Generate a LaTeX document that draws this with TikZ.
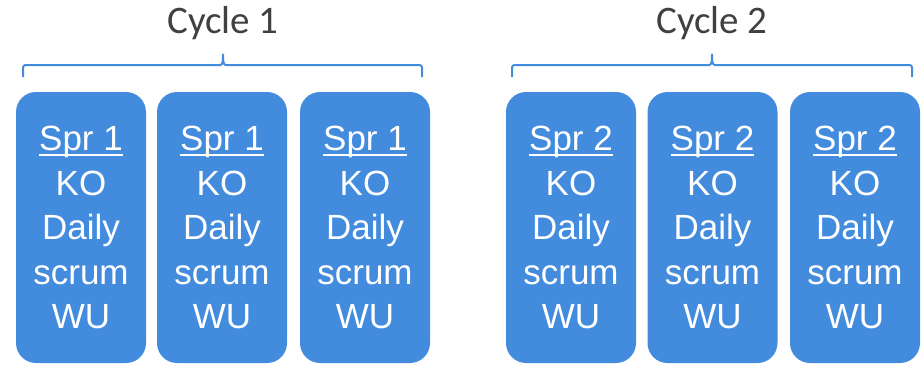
\documentclass[tikz,border=0pt]{standalone}
\usepackage{fontspec}
\setmainfont{Liberation Sans}
\newfontfamily\sprfont{Liberation Sans}
\newfontfamily\cyclefont{Carlito}
\definecolor{sprblue}{RGB}{66,139,221}
\definecolor{cyclegray}{RGB}{64,64,64}
\newcommand{\sprtitle}[1]{\setbox0\hbox{#1}\rlap{\rule[-5.5pt]{\wd0}{2.3pt}}\box0}

\begin{document}
\begin{tikzpicture}[x=1pt, y=-1pt, line join=round,
    sprint/.style={fill=sprblue, rounded corners=20pt, minimum width=130pt, minimum height=271pt,
        inner sep=0pt, text=white, align=center, font=\sprfont\fontsize{35}{44.5}\selectfont},
    cyclebrace/.style={draw=sprblue, line width=2pt, rounded corners=2.5pt},
    cyclelabel/.style={anchor=base, text=cyclegray, font=\cyclefont\fontsize{39}{39}\selectfont}]
    \useasboundingbox (0,0) rectangle (923,364);

    \foreach \i/\x/\c in {1/81/1, 2/222/1, 3/365/1, 4/571/2, 5/712.5/2, 6/855/2}
        \node[sprint] (spr\i) at (\x,227.5) {\sprtitle{Spr \c}\\KO\\Daily\\scrum\\WU};

    \coordinate (top1) at (223,53);
    \coordinate (top2) at (712,53);

    \draw[cyclebrace] (23,77) -- (23,65) -- (218,65) to[out=0,in=-90] (top1)
        to[out=-90,in=180] (228,65) -- (422,65) -- (422,77);
    \draw[cyclebrace] (512,77) -- (512,65) -- (707,65) to[out=0,in=-90] (top2)
        to[out=-90,in=180] (717,65) -- (912,65) -- (912,77);

    \node[cyclelabel] (cyc1) at (223,33) {Cycle 1};
    \node[cyclelabel] (cyc2) at (712,33) {Cycle 2};
\end{tikzpicture}
\end{document}
